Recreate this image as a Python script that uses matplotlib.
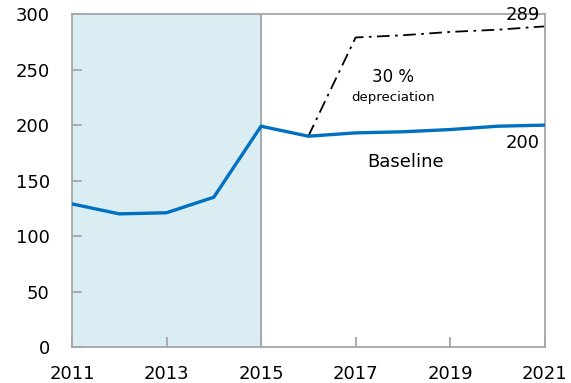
import matplotlib.pyplot as plt

years = [2011, 2012, 2013, 2014, 2015, 2016, 2017, 2018, 2019, 2020, 2021]
baseline = [129, 120, 121, 135, 199, 190, 193, 194, 196, 199, 200]
dep_years = [2016, 2017, 2018, 2019, 2020, 2021]
depreciation = [190, 279, 281, 284, 286, 289]
xticks = [2011, 2013, 2015, 2017, 2019, 2021]
yticks = [0, 50, 100, 150, 200, 250, 300]

fig = plt.figure(figsize=(5.71, 3.83), dpi=100)
ax = fig.add_axes([0.126, 0.094, 0.828, 0.869])

ax.axvspan(2011, 2015, color="#daedf3", zorder=0)
ax.axvline(2015, color="#a6a6a6", lw=1.3, zorder=1)

ax.plot(dep_years, depreciation, color="black", lw=1.3, dashes=[7, 3, 1.5, 3], zorder=2)
ax.plot(years, baseline, color="#0070c0", lw=2.4, zorder=3, solid_joinstyle="miter")

ax.set_xlim(2011, 2021)
ax.set_ylim(0, 300)
ax.set_xticks(xticks)
ax.set_yticks(yticks)
ax.tick_params(direction="in", length=7, color="#a6a6a6", width=1.3, labelsize=13)
ax.tick_params(axis="x", pad=13)
ax.tick_params(axis="y", pad=16)
for s in ax.spines.values():
    s.set_color("#a6a6a6")
    s.set_linewidth(1.3)

ax.text(2020.9, 291, "289", ha="right", va="bottom", fontsize=13)
ax.text(2020.9, 184, "200", ha="right", va="center", fontsize=13)
ax.text(2018.05, 167, "Baseline", ha="center", va="center", fontsize=13)
ax.text(2017.8, 243, "30 %", ha="center", va="center", fontsize=12)
ax.text(2017.8, 225, "depreciation", ha="center", va="center", fontsize=9.5)

fig.savefig("out.png", dpi=100)
